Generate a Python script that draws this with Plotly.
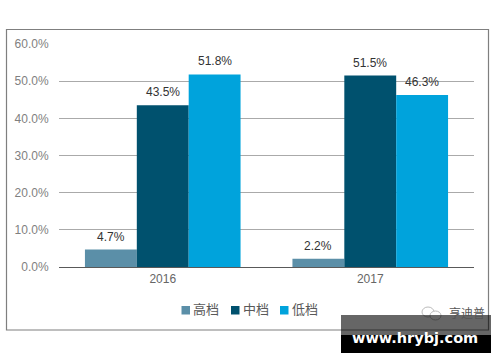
import plotly.graph_objects as go

years = ["2016", "2017"]
high = [4.7, 2.2]
mid = [43.5, 51.5]
low = [51.8, 46.3]
series_names = ["高档", "中档", "低档"]
series_colors = ["#5b8fa8", "#00516e", "#00a3dc"]
series_values = [high, mid, low]
y_ticks = [0, 10, 20, 30, 40, 50, 60]
y_labels = ["0.0%", "10.0%", "20.0%", "30.0%", "40.0%", "50.0%", "60.0%"]

W, H = 500, 362
L, R, T, B = 59, 26, 44, 95
FONT = "Liberation Sans, Noto Sans CJK SC, sans-serif"


def px(x):
    return (x - L) / (W - L - R)


def py(y):
    return (H - B - y) / (H - T - B)


fig = go.Figure()
for name, color, vals in zip(series_names, series_colors, series_values):
    fig.add_trace(go.Bar(x=years, y=vals, name=name, marker=dict(color=color, line=dict(width=0)),
                         showlegend=False))

annotations = []
for i, vals in enumerate(series_values):
    for j, v in enumerate(vals):
        annotations.append(dict(x=j, y=v, xref="x", yref="y", text=f"{v:.1f}%", showarrow=False,
                                xshift=(i - 1) * 52, yshift=13, yanchor="middle",
                                font=dict(family=FONT, size=12, color="#333333")))


def rect(x0, y0, x1, y1, **kw):
    return dict(type="rect", xref="paper", yref="paper", x0=px(x0), x1=px(x1), y0=py(y0), y1=py(y1),
                line=kw.pop("line", dict(width=0)), **kw)


shapes = [rect(6.5, 29.5, 488.5, 330, line=dict(color="#7f7f7f", width=1.2), layer="below")]

# legend
swatch_x = [181.5, 231, 280]
for name, color, sx in zip(series_names, series_colors, swatch_x):
    shapes.append(rect(sx, 306, sx + 8.5, 314.5, fillcolor=color))
    annotations.append(dict(xref="paper", yref="paper", x=px(sx + 9.5), y=py(309), text=name, showarrow=False,
                            xanchor="left", yanchor="middle", xshift=0,
                            font=dict(family=FONT, size=13, color="#595959")))

# WeChat-style mark
shapes.append(dict(type="circle", xref="paper", yref="paper", x0=px(422), x1=px(434), y0=py(317), y1=py(307),
                   line=dict(color="#bbbbbb", width=1)))
shapes.append(dict(type="circle", xref="paper", yref="paper", x0=px(430), x1=px(441), y0=py(320), y1=py(311),
                   line=dict(color="#bbbbbb", width=1), fillcolor="white"))
annotations.append(dict(xref="paper", yref="paper", x=px(446.5), y=py(313.5), text="亨迪普", showarrow=False,
                        xanchor="left", yanchor="middle",
                        font=dict(family=FONT, size=12, color="#555555")))

# watermark banner
shapes.append(rect(341, 315, 491, 335, fillcolor="rgba(0,0,0,0.6)", layer="above"))
shapes.append(rect(341, 335, 491, 353, fillcolor="#000000", layer="above"))
annotations.append(dict(xref="paper", yref="paper", x=px(415), y=py(337.5), text="<b>www.hrybj.com</b>", showarrow=False,
                        xanchor="center", yanchor="middle",
                        font=dict(family="DejaVu Sans, sans-serif", size=14.5, color="#ffffff")))

fig.update_layout(
    width=W, height=H, margin=dict(l=L, r=R, t=T, b=B, pad=0),
    paper_bgcolor="white", plot_bgcolor="white",
    barmode="group", bargap=0.25, bargroupgap=0,
    font=dict(family=FONT, size=12, color="#666666"),
    shapes=shapes, annotations=annotations,
    xaxis=dict(type="category", range=[-0.5, 1.5], tickfont=dict(size=12, color="#666666"), ticks="", showgrid=False,
               showline=True, linecolor="#595959", linewidth=1.3, ticklen=0),
    yaxis=dict(range=[0, 60], tickvals=y_ticks, ticktext=y_labels, showgrid=True, gridcolor="#aaaaaa", gridwidth=1.3,
               zeroline=False, showline=False, ticks="outside", ticklen=7, tickcolor="rgba(0,0,0,0)",
               tickfont=dict(size=12, color="#7f7f7f")),
)
fig.write_html("out.html", config=dict(displayModeBar=False), post_script="document.body.style.margin='0';")
